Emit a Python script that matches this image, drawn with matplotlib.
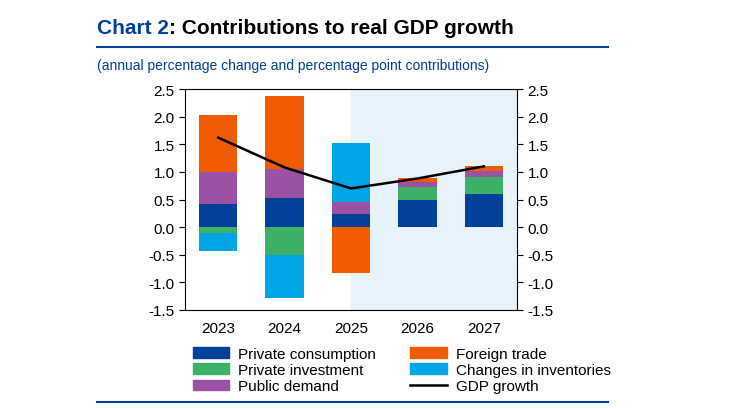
import matplotlib.pyplot as plt
import numpy as np
from matplotlib.lines import Line2D
from matplotlib.patches import Patch

plt.rcParams['font.family'] = ['Liberation Sans', 'DejaVu Sans']

years = ["2023", "2024", "2025", "2026", "2027"]
priv_cons = [0.42, 0.53, 0.24, 0.50, 0.60]
priv_inv = [-0.10, -0.50, 0.00, 0.22, 0.30]
pub_dem = [0.58, 0.53, 0.21, 0.09, 0.12]
foreign = [1.03, 1.31, -0.83, 0.08, 0.08]
invent = [-0.33, -0.78, 1.07, 0.00, 0.00]
gdp = [1.62, 1.08, 0.70, 0.88, 1.10]

colors = {"pc": "#003f9a", "pi": "#3cb064", "pd": "#9b52a4", "ft": "#f05a00", "inv": "#00a5e6"}

fig = plt.figure(figsize=(7.30, 4.10), dpi=100)
ax = fig.add_axes([185/730, 1-311/410, (517-185)/730, (311-90)/410])
x = np.arange(len(years))
w = 0.58
ax.axvspan(2, 4.5, color="#e6f2fc", zorder=0)
series = [(priv_cons, "pc"), (priv_inv, "pi"), (pub_dem, "pd"), (foreign, "ft"), (invent, "inv")]
pos = np.zeros(5); neg = np.zeros(5)
for vals, k in series:
    v = np.array(vals)
    bottoms = np.where(v >= 0, pos, neg)
    ax.bar(x, v, w, bottom=bottoms, color=colors[k], zorder=2)
    pos += np.where(v >= 0, v, 0); neg += np.where(v < 0, v, 0)
ax.plot(x, gdp, color="black", lw=1.8, zorder=3)
ax.set_xlim(-0.5, 4.5); ax.set_ylim(-1.5, 2.5)
ticks = np.arange(-1.5, 2.51, 0.5)
ax.set_yticks(ticks); ax.set_yticklabels([f"{t:.1f}" for t in ticks])
ax.set_xticks(x); ax.set_xticklabels(years)
ax.tick_params(labelsize=11, direction="out", length=4, right=True, labelright=True)
ax.tick_params(axis="x", length=0, pad=8)
for s in ax.spines.values(): s.set_linewidth(0.8)

t1 = fig.text(97/730, 1-28/410, "Chart 2", color="#003f9a", fontsize=15, fontweight="bold", va="center")
fig.canvas.draw()
bb = t1.get_window_extent()
fig.text(bb.x1/730, 1-28/410, ": Contributions to real GDP growth", color="black", fontsize=15, fontweight="bold", va="center")
fig.text(97/730, 1-66/410, "(annual percentage change and percentage point contributions)", color="#003f9a", fontsize=10, va="center")
for yy in [48, 403]:
    fig.add_artist(Line2D([97/730, 608/730], [1-yy/410]*2, color="#003f9a", lw=1.5))

handles = [Patch(color=colors["pc"], label="Private consumption"),
           Patch(color=colors["pi"], label="Private investment"),
           Patch(color=colors["pd"], label="Public demand"),
           Patch(color=colors["ft"], label="Foreign trade"),
           Patch(color=colors["inv"], label="Changes in inventories"),
           Line2D([], [], color="black", lw=1.8, label="GDP growth")]
fig.legend(handles=handles, ncol=2, loc="upper left", bbox_to_anchor=(185/730, 1-340/410),
           frameon=False, fontsize=11, handlelength=2.4, handleheight=0.7,
           labelspacing=0.15, columnspacing=2.2, borderpad=0, handletextpad=0.6)
fig.savefig("out.png", dpi=100)
